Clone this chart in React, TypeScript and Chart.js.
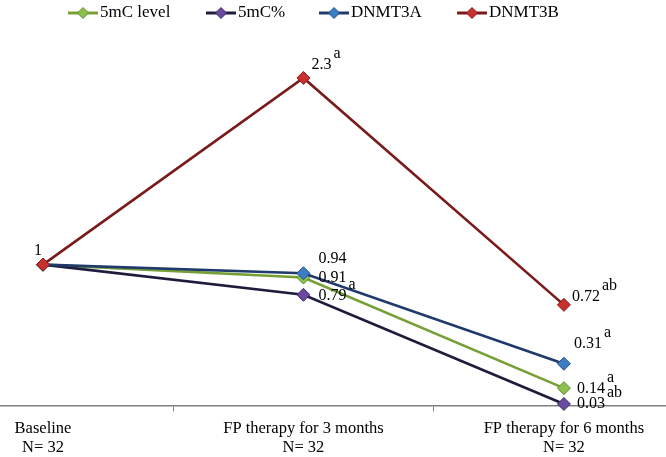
import React, { useEffect, useRef } from "react";
import { Chart, registerables } from "chart.js";

Chart.register(...registerables);

const categories: string[][] = [
  ["Baseline", "N= 32"],
  ["FP therapy for 3 months", "N= 32"],
  ["FP therapy for 6 months", "N= 32"],
];

const seriesNames = ["5mC level", "5mC%", "DNMT3A", "DNMT3B"];
const level5mC = [1, 0.91, 0.14];
const pct5mC = [1, 0.79, 0.03];
const dnmt3a = [1, 0.94, 0.31];
const dnmt3b = [1, 2.3, 0.72];

const valueLabels5mC = ["", "0.91", "0.14"];
const valueLabelsPct = ["", "0.79", "0.03"];
const valueLabels3a = ["", "0.94", "0.31"];
const valueLabels3b = ["1", "2.3", "0.72"];

const sup5mC = ["", "", "a"];
const supPct = ["", "a", "ab"];
const sup3a = ["", "", "a"];
const sup3b = ["", "a", "ab"];

// styling / placement (not data)
const FONT = "'Liberation Serif', 'Times New Roman', serif";
const lineColors = ["#76A035", "#1E1C3C", "#1F3A6B", "#7A1A1A"];
const pointFills = ["#8DC051", "#6A4A9E", "#3C7DC4", "#C8302E"];
const pointBorders = ["#5F8A28", "#3B2A66", "#1F4E8C", "#8B1A1A"];
const drawOrder = [3, 2, 1, 0];
const labelOffsets: number[][][] = [
  [[0, 0], [15, 0], [13, 1]],
  [[0, 0], [15, 1], [13, 0]],
  [[0, 0], [15, -14], [10, -20]],
  [[-9, -14], [8, -13], [8, -8]],
];
const legendX = [68, 206, 319, 457];

export default function App() {
  const ref = useRef<HTMLCanvasElement | null>(null);

  useEffect(() => {
    if (!ref.current) return;
    const series = [level5mC, pct5mC, dnmt3a, dnmt3b];
    const vLabels = [valueLabels5mC, valueLabelsPct, valueLabels3a, valueLabels3b];
    const sups = [sup5mC, supPct, sup3a, sup3b];

    const diamond = (ctx: CanvasRenderingContext2D, x: number, y: number, r: number, fill: string, stroke: string) => {
      ctx.beginPath();
      ctx.moveTo(x, y - r);
      ctx.lineTo(x + r, y);
      ctx.lineTo(x, y + r);
      ctx.lineTo(x - r, y);
      ctx.closePath();
      ctx.fillStyle = fill;
      ctx.fill();
      ctx.lineWidth = 1;
      ctx.strokeStyle = stroke;
      ctx.stroke();
    };

    const annotations = {
      id: "annotations",
      afterDatasetsDraw(chart: any) {
        const ctx: CanvasRenderingContext2D = chart.ctx;
        ctx.save();
        ctx.font = `16px ${FONT}`;
        ctx.fillStyle = "#000";
        ctx.textAlign = "left";
        ctx.textBaseline = "middle";
        series.forEach((_, i) => {
          const meta = chart.getDatasetMeta(i);
          meta.data.forEach((pt: any, j: number) => {
            const t = vLabels[i][j];
            if (!t) return;
            const [dx, dy] = labelOffsets[i][j];
            const x = pt.x + dx;
            const y = pt.y + dy;
            ctx.fillText(t, x, y);
            const s = sups[i][j];
            if (s) {
              const w = ctx.measureText(t).width;
              ctx.fillText(s, x + w + 2, y - 11);
            }
          });
        });
        ctx.restore();
      },
      afterDraw(chart: any) {
        const ctx: CanvasRenderingContext2D = chart.ctx;
        ctx.save();
        const y = 13;
        seriesNames.forEach((name, i) => {
          const x0 = legendX[i];
          ctx.beginPath();
          ctx.moveTo(x0, y);
          ctx.lineTo(x0 + 30, y);
          ctx.lineWidth = 3;
          ctx.strokeStyle = lineColors[i];
          ctx.stroke();
          diamond(ctx, x0 + 15, y, 5.5, pointFills[i], pointBorders[i]);
          ctx.font = `17px ${FONT}`;
          ctx.fillStyle = "#000";
          ctx.textAlign = "left";
          ctx.textBaseline = "middle";
          ctx.fillText(name, x0 + 32, y);
        });
        ctx.restore();
      },
    };

    const chart = new Chart(ref.current, {
      type: "line",
      data: {
        datasets: series.map((vals, i) => ({
          label: seriesNames[i],
          data: vals.map((v, k) => ({ x: k, y: v })),
          borderColor: lineColors[i],
          borderWidth: 2.6,
          pointStyle: "rectRot",
          pointRadius: 6.5,
          pointBackgroundColor: pointFills[i],
          pointBorderColor: pointBorders[i],
          pointBorderWidth: 1,
          tension: 0,
          fill: false,
          clip: false,
          order: drawOrder[i],
        })),
      },
      options: {
        animation: false,
        responsive: false,
        layout: { autoPadding: false, padding: { top: 40, left: 0, right: 0, bottom: 0 } },
        plugins: {
          legend: { display: false },
          tooltip: { enabled: false },
        },
        scales: {
          x: {
            type: "linear",
            min: -0.165,
            max: 2.392,
            afterBuildTicks: (scale: any) => {
              scale.ticks = [0, 0.5, 1, 1.5, 2].map((v) => ({ value: v }));
            },
            afterFit: (scale: any) => {
              scale.paddingLeft = 0;
              scale.paddingRight = 0;
              scale.height = scale.height - 8;
            },
            ticks: {
              autoSkip: false,
              maxRotation: 0,
              minRotation: 0,
              padding: 7,
              color: "#000",
              font: { family: FONT, size: 16.5 },
              callback: (v: any) => (Number.isInteger(v) ? categories[v] : ""),
            },
            grid: {
              drawOnChartArea: false,
              drawTicks: true,
              tickLength: 6,
              lineWidth: 1,
              color: (c: any) => (c.tick && c.tick.value % 1 !== 0 ? "#808080" : "rgba(0,0,0,0)"),
            },
            border: { display: true, color: "#808080", width: 1.5 },
          },
          y: {
            display: false,
            min: 0.02,
            max: 2.564,
          },
        },
      },
      plugins: [annotations],
    } as any);

    return () => chart.destroy();
  }, []);

  return (
    <div style={{ position: "absolute", left: 0, top: 0, width: 666, height: 457, background: "#fff" }}>
      <canvas ref={ref} width={666} height={457} style={{ display: "block" }} />
    </div>
  );
}
